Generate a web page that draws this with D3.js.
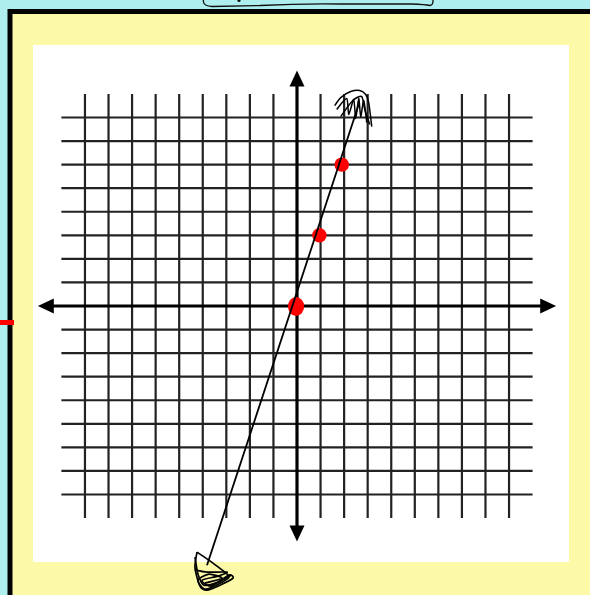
<!DOCTYPE html>
<html>
<head>
<meta charset="utf-8">
<script src="https://cdn.jsdelivr.net/npm/d3@7"></script>
<style>
  html, body { margin: 0; padding: 0; background: #afeeee; overflow: hidden; }
</style>
</head>
<body>
<svg id="chart" width="590" height="595"></svg>
<script>
// grid ticks (unit lines), axis extents and the plotted points of y = 3x
const xTicks = d3.range(-9, 10);
const yTicks = d3.range(-8, 9);
const xAxisExtent = [-11, 11];
const yAxisExtent = [-10, 10];
const points = [
  { x: 0, y: 0 },
  { x: 1, y: 3 },
  { x: 2, y: 6 }
];
// the hand-drawn line, slightly off the origin as in the sketch
const lineEnds = [
  { x: -3.82, y: -11.0 },
  { x: 2.62, y: 8.55 }
];

const width = 590, height = 595;
const unit = 23.56;
const cx = 297, cy = 306;

const svg = d3.select("#chart");

const x = d3.scaleLinear().domain([-11, 11]).range([cx - 11 * unit, cx + 11 * unit]);
const y = d3.scaleLinear().domain([-10, 10]).range([cy + 10 * unit, cy - 10 * unit]);

// page frame
svg.append("rect").attr("width", width).attr("height", height).attr("fill", "#afeeee");
svg.append("rect")
  .attr("x", 10).attr("y", 11.5)
  .attr("width", 620).attr("height", 620)
  .attr("fill", "#fcf9a8")
  .attr("stroke", "#000").attr("stroke-width", 5);
svg.append("rect")
  .attr("x", 33).attr("y", 45)
  .attr("width", 536).attr("height", 517)
  .attr("fill", "#fff");

// sketchy tab at the top
svg.append("path")
  .attr("d", "M203,-4 L203.5,2 Q204,6 212,6.5 L260,5.5 Q300,3.5 340,4 L412,4 Q425,4.5 430,5.5 Q433,5 433,1 L433,-4")
  .attr("fill", "none").attr("stroke", "#111").attr("stroke-width", 1.3);
svg.append("circle").attr("cx", 239).attr("cy", 0.5).attr("r", 1.6).attr("fill", "#111");

// red tick on the left edge
svg.append("rect").attr("x", 0).attr("y", 320).attr("width", 14).attr("height", 5).attr("fill", "#ff0000");

// grid
const grid = svg.append("g").attr("stroke", "#222").attr("stroke-width", 2.2);
grid.selectAll("line.v")
  .data(xTicks.filter(d => d !== 0))
  .join("line")
  .attr("class", "v")
  .attr("x1", d => x(d)).attr("x2", d => x(d))
  .attr("y1", y(9)).attr("y2", y(-9));
grid.selectAll("line.h")
  .data(yTicks.filter(d => d !== 0))
  .join("line")
  .attr("class", "h")
  .attr("y1", d => y(d)).attr("y2", d => y(d))
  .attr("x1", x(-10)).attr("x2", x(10));

// axes with arrowheads
const axes = svg.append("g").attr("fill", "#000").attr("stroke", "#000");
axes.append("line")
  .attr("x1", x(xAxisExtent[0]) + 8).attr("x2", x(xAxisExtent[1]) - 8)
  .attr("y1", y(0)).attr("y2", y(0)).attr("stroke-width", 3.2);
axes.append("line")
  .attr("y1", y(yAxisExtent[1]) + 8).attr("y2", y(yAxisExtent[0]) - 8)
  .attr("x1", x(0)).attr("x2", x(0)).attr("stroke-width", 3.2);
const ah = 16, aw = 7.5;
const arrows = [
  [x(xAxisExtent[0]), y(0), -1, 0],
  [x(xAxisExtent[1]), y(0), 1, 0],
  [x(0), y(yAxisExtent[1]), 0, -1],
  [x(0), y(yAxisExtent[0]), 0, 1]
];
axes.selectAll("path.arrow")
  .data(arrows)
  .join("path")
  .attr("class", "arrow")
  .attr("stroke", "none")
  .attr("d", ([tx, ty, dx, dy]) => {
    const bx = tx - dx * ah, by = ty - dy * ah;
    const px = -dy * aw, py = dx * aw;
    return `M${tx},${ty}L${bx + px},${by + py}L${bx - px},${by - py}Z`;
  });

// scribbled arrowheads
const scribble = d3.line().curve(d3.curveCardinal.tension(0.3));
const topEnd = [x(lineEnds[1].x), y(lineEnds[1].y)];
const topStrokes = [
  [[-24, 1], [-18, -7], [-8, -13], [1, -14], [7, -10], [10, -2], [13, 22]],
  [[-22, 5], [-12, -6], [-10, 10], [-5, -5], [-3, 14], [0, -6], [2, 12], [5, -4], [8, 18]],
  [[-18, 12], [-6, -4], [3, -8], [6, 5], [11, 20]]
];
svg.append("g")
  .attr("fill", "none").attr("stroke", "#000").attr("stroke-width", 1.5)
  .selectAll("path")
  .data(topStrokes)
  .join("path")
  .attr("d", s => scribble(s.map(([dx, dy]) => [topEnd[0] + dx, topEnd[1] + dy])));

const botEnd = [x(lineEnds[0].x), y(lineEnds[0].y)];
const botStrokes = [
  [[-10, -13], [-12, 3], [-7, 21], [0, 25], [13, 20], [26, 13], [22, 10], [4, 21], [-5, 15], [11, 11], [20, 7], [0, 7], [-11, 5]],
  [[-10, -13], [6, -2], [22, 11], [15, 17], [-2, 24], [-9, 15], [2, 9], [15, 13], [-2, 18]],
  [[-12, -8], [-9, 9], [-3, 20], [11, 17], [24, 10]]
];
svg.append("g")
  .attr("fill", "none").attr("stroke", "#000").attr("stroke-width", 1.7)
  .selectAll("path")
  .data(botStrokes)
  .join("path")
  .attr("d", s => scribble(s.map(([dx, dy]) => [botEnd[0] + dx, botEnd[1] + dy])));

// red dots
svg.append("g").attr("fill", "#ff0000")
  .selectAll("circle")
  .data(points)
  .join("circle")
  .attr("cx", d => x(d.x) - 1.2 * d.x)
  .attr("cy", d => y(d.y))
  .attr("r", 7.2);
svg.append("ellipse")
  .attr("cx", x(0) - 1).attr("cy", y(0) + 0.5)
  .attr("rx", 8).attr("ry", 9.5)
  .attr("fill", "#ff0000");

// hand-drawn line y = 3x, on top of the dots
svg.append("line")
  .attr("x1", x(lineEnds[0].x)).attr("y1", y(lineEnds[0].y))
  .attr("x2", x(lineEnds[1].x)).attr("y2", y(lineEnds[1].y))
  .attr("stroke", "#000").attr("stroke-width", 1.8);
</script>
</body>
</html>
